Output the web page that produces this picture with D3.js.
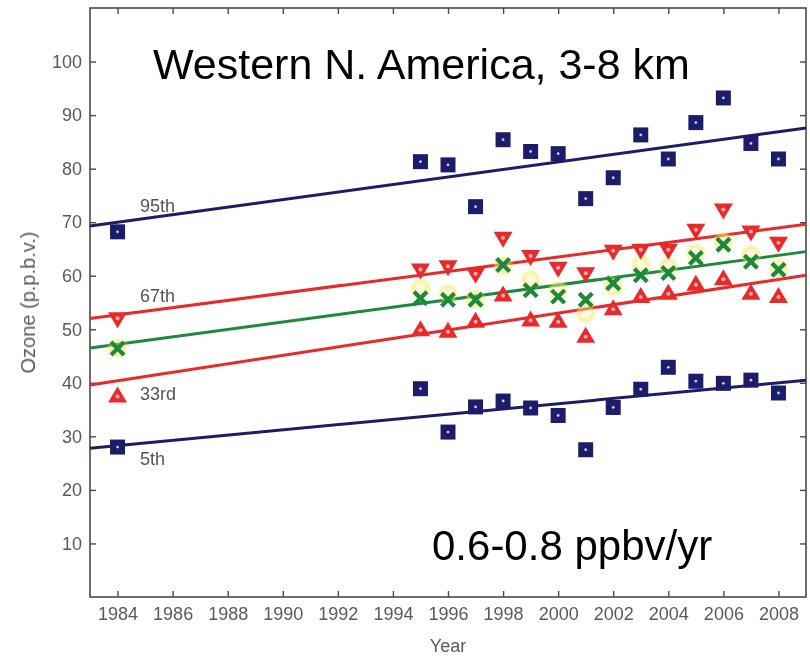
<!DOCTYPE html>
<html>
<head>
<meta charset="utf-8">
<script src="https://cdn.jsdelivr.net/npm/d3@7/dist/d3.min.js"></script>
<style>
  html, body { margin: 0; padding: 0; background: #fff; }
  svg { display: block; }
</style>
</head>
<body>
<svg id="chart" width="810" height="658"></svg>
<script>
// Ozone percentiles, western North America, 3-8 km
const years = [1984, 1995, 1996, 1997, 1998, 1999, 2000, 2001, 2002, 2003, 2004, 2005, 2006, 2007, 2008];
const p95  = [68.2, 81.3, 80.7, 72.9, 85.4, 83.2, 82.8, 74.4, 78.3, 86.3, 81.8, 88.6, 93.2, 84.7, 81.8];
const p67  = [51.7, 60.8, 61.4, 60.0, 66.7, 63.3, 61.1, 60.1, 64.3, 64.5, 64.5, 68.2, 72.0, 67.9, 65.8];
const p50  = [46.4, 55.8, 55.5, 55.5, 62.0, 57.3, 56.1, 55.5, 58.6, 60.1, 60.5, 63.3, 65.8, 62.6, 61.1];
const meanVals = [46.5, 57.7, 56.7, 55.7, 61.8, 59.2, 57.3, 53.0, 58.0, 62.0, 61.7, 64.2, 66.4, 63.9, 61.4];
const p33  = [37.8, 50.2, 49.9, 51.8, 56.7, 52.0, 51.8, 49.0, 54.1, 56.4, 57.0, 58.7, 59.7, 57.0, 56.4];
const p5   = [28.0, 38.9, 30.8, 35.5, 36.6, 35.3, 33.9, 27.5, 35.4, 38.8, 42.9, 40.3, 39.9, 40.5, 38.1];

// Linear trend lines: value at the left (1983) and right (2009) edges of the axis
const trendKeys  = ["p95", "p67", "p50", "p33", "p5"];
const trendStart = [69.3, 52.0, 46.5, 39.6, 27.8];
const trendEnd   = [87.6, 69.6, 64.5, 60.1, 40.5];

const xTicks = [1984, 1986, 1988, 1990, 1992, 1994, 1996, 1998, 2000, 2002, 2004, 2006, 2008];
const yTicks = [10, 20, 30, 40, 50, 60, 70, 80, 90, 100];

const labelNames = ["95th", "67th", "33rd", "5th"];
const labelValues = [73.0, 56.2, 37.9, 25.8];

const colors = { p95: "#1f1f6b", p5: "#1f1f6b", p67: "#e8292b", p33: "#e8292b", p50: "#1f8a3b" };

const W = 810, H = 658;
const margin = { left: 90, top: 8, right: 4, bottom: 61 };
const x = d3.scaleLinear().domain([1983, 2009]).range([margin.left, W - margin.right]);
const y = d3.scaleLinear().domain([0, 110]).range([H - margin.bottom, margin.top]);

const svg = d3.select("#chart");
const font = "'Liberation Sans', Arial, Helvetica, sans-serif";

const defs = svg.append("defs");
defs.append("filter").attr("id", "soft")
  .append("feGaussianBlur").attr("stdDeviation", 0.6);
defs.append("filter").attr("id", "glow")
  .append("feGaussianBlur").attr("stdDeviation", 1.6);

const plot = svg.append("g").attr("filter", "url(#soft)");

// Frame with inward ticks on all four sides
const x0 = x.range()[0], x1 = x.range()[1], y0 = y.range()[0], y1 = y.range()[1];
const frameColor = "#4a4a4a";
plot.append("rect")
  .attr("x", x0).attr("y", y1).attr("width", x1 - x0).attr("height", y0 - y1)
  .attr("fill", "none").attr("stroke", frameColor).attr("stroke-width", 1.6);

const axB = d3.axisBottom(x).tickValues(xTicks).tickSizeInner(-6).tickSizeOuter(0).tickPadding(10).tickFormat(d3.format("d"));
const axT = d3.axisTop(x).tickValues(xTicks).tickSizeInner(-6).tickSizeOuter(0).tickFormat("");
const axL = d3.axisLeft(y).tickValues(yTicks).tickSizeInner(-6).tickSizeOuter(0).tickPadding(8);
const axR = d3.axisRight(y).tickValues(yTicks).tickSizeInner(-6).tickSizeOuter(0).tickFormat("");

function styleAxis(g) {
  g.select(".domain").remove();
  g.selectAll(".tick line").attr("stroke", frameColor).attr("stroke-width", 1.4);
  g.selectAll(".tick text").attr("fill", "#5a5a5a").attr("font-family", font).attr("font-size", 18);
}
plot.append("g").attr("transform", `translate(0,${y0})`).call(axB).call(styleAxis);
plot.append("g").attr("transform", `translate(0,${y1})`).call(axT).call(styleAxis);
plot.append("g").attr("transform", `translate(${x0},0)`).call(axL).call(styleAxis);
plot.append("g").attr("transform", `translate(${x1},0)`).call(axR).call(styleAxis);

// Axis titles
plot.append("text")
  .attr("x", (x0 + x1) / 2).attr("y", 652)
  .attr("text-anchor", "middle").attr("font-family", font).attr("font-size", 18)
  .attr("fill", "#5a5a5a").text("Year");
plot.append("text")
  .attr("transform", `translate(35,${(y0 + y1) / 2}) rotate(-90)`)
  .attr("text-anchor", "middle").attr("font-family", font).attr("font-size", 20)
  .attr("fill", "#5a5a5a").text("Ozone (p.p.b.v.)");

// Trend lines
trendKeys.forEach((k, i) => {
  plot.append("line")
    .attr("x1", x(1983)).attr("y1", y(trendStart[i]))
    .attr("x2", x(2009)).attr("y2", y(trendEnd[i]))
    .attr("stroke", colors[k]).attr("stroke-width", 3);
});

// Percentile labels on the left
labelNames.forEach((t, i) => {
  plot.append("text")
    .attr("x", 140).attr("y", y(labelValues[i]))
    .attr("dominant-baseline", "central")
    .attr("font-family", font).attr("font-size", 18).attr("fill", "#555")
    .text(t);
});

const pts = arr => years.map((yr, i) => ({ yr, v: arr[i] }));

// Mean: pale yellow circles under the median crosses
plot.append("g").attr("filter", "url(#glow)")
  .selectAll("circle").data(pts(meanVals)).join("circle")
  .attr("cx", d => x(d.yr)).attr("cy", d => y(d.v)).attr("r", 7.5)
  .attr("fill", "#f8f4a0").attr("fill-opacity", 0.35)
  .attr("stroke", "#f0e650").attr("stroke-opacity", 0.75).attr("stroke-width", 2.5);

// Squares (5th and 95th)
function squares(arr) {
  const g = plot.append("g");
  const s = 15;
  g.selectAll("rect").data(pts(arr)).join("rect")
    .attr("x", d => x(d.yr) - s / 2).attr("y", d => y(d.v) - s / 2)
    .attr("width", s).attr("height", s).attr("fill", "#1f1f6b");
  g.selectAll("circle").data(pts(arr)).join("circle")
    .attr("cx", d => x(d.yr)).attr("cy", d => y(d.v)).attr("r", 1.4)
    .attr("fill", "#c8c8e8");
}
squares(p95);
squares(p5);

// Triangles (67th pointing down, 33rd pointing up)
function triangles(arr, down) {
  const g = plot.append("g");
  const w = 19, h = 16;
  g.selectAll("path").data(pts(arr)).join("path")
    .attr("transform", d => `translate(${x(d.yr)},${y(d.v)})`)
    .attr("d", down
      ? `M${-w / 2},${-h / 2}L${w / 2},${-h / 2}L0,${h / 2}Z`
      : `M${-w / 2},${h / 2}L${w / 2},${h / 2}L0,${-h / 2}Z`)
    .attr("fill", "#e8292b");
  g.selectAll("circle").data(pts(arr)).join("circle")
    .attr("cx", d => x(d.yr)).attr("cy", d => y(d.v) + (down ? -2 : 2)).attr("r", 2)
    .attr("fill", "#f7b0b0");
}
triangles(p67, true);
triangles(p33, false);

// Median: green crosses
const cs = 6.5;
plot.append("g").selectAll("path").data(pts(p50)).join("path")
  .attr("transform", d => `translate(${x(d.yr)},${y(d.v)})`)
  .attr("d", `M${-cs},${-cs}L${cs},${cs}M${-cs},${cs}L${cs},${-cs}`)
  .attr("stroke", "#1f8a3b").attr("stroke-width", 4.2).attr("fill", "none");

// Title and trend annotation
svg.append("text")
  .attr("x", 153).attr("y", 79)
  .attr("font-family", font).attr("font-size", 43).attr("fill", "#000")
  .text("Western N. America, 3-8 km");
svg.append("text")
  .attr("x", 432).attr("y", 560)
  .attr("font-family", font).attr("font-size", 42).attr("fill", "#000")
  .text("0.6-0.8 ppbv/yr");
</script>
</body>
</html>
